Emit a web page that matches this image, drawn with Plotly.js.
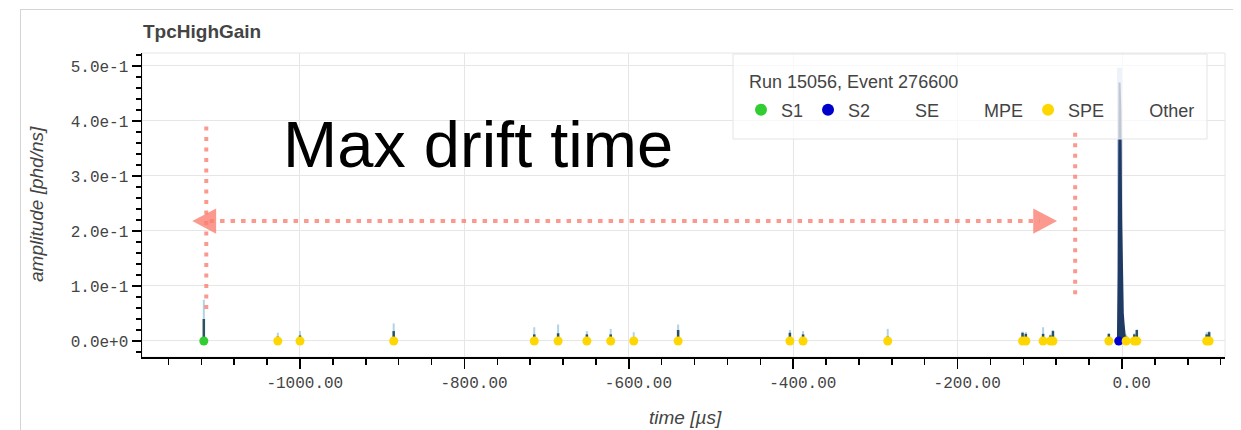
<!DOCTYPE html>
<html>
<head>
<meta charset="utf-8">
<script src="https://cdn.plot.ly/plotly-3.0.1.min.js"></script>
<style>
  html, body { margin: 0; padding: 0; background: #fff; }
  #frame { position: absolute; left: 20px; top: 9px; width: 1212px; height: 440px;
           border-top: 1px solid #d4d4d4; border-left: 1px solid #d4d4d4; }
  #chart { position: absolute; left: 0; top: 0; width: 1241px; height: 430px; }
</style>
</head>
<body>
<div id="frame"></div>
<div id="chart"></div>
<script>
// ---- data ----
const s1Times = [-1117];
const s2Times = [-4];
const speTimes = [-1027, -1000, -886, -715, -686, -651, -622, -594, -540, -404, -388, -285,
                  -121, -117, -96, -87, -84, -16, 5, 15, 18, 103, 106];

// small pulses in the waveform: time, core amplitude, envelope amplitude
const pulseTimes = [-1117, -1027, -1000, -886, -715, -686, -651, -622, -594, -540, -404, -388, -285,
                    -121, -117, -96, -87, -84, -16, 5, 15, 18, 103, 106];
const pulseCore  = [0.040, 0.008, 0.010, 0.018, 0.012, 0.014, 0.012, 0.012, 0.006, 0.020, 0.015, 0.012, 0.008,
                    0.015, 0.013, 0.013, 0.010, 0.018, 0.013, 0.008, 0.012, 0.020, 0.012, 0.016];
const pulseEnv   = [0.075, 0.015, 0.018, 0.032, 0.025, 0.030, 0.018, 0.022, 0.016, 0.030, 0.020, 0.018, 0.022,
                    0.017, 0.016, 0.025, 0.012, 0.020, 0.014, 0.012, 0.014, 0.021, 0.016, 0.018];

// main S2 pulse
const s2WaveTime = [-5, -4, -3, -2, -1, 0, 1, 2, 3, 4];
const s2WaveAmp  = [0, 0.12, 0.47, 0.42, 0.22, 0.08, 0.05, 0.03, 0.015, 0];
const s2EnvTime  = [-3];
const s2EnvAmp   = [0.497];

const xTickVals = [-1000, -800, -600, -400, -200, 0];
const xTickText = ['-1000.00', '-800.00', '-600.00', '-400.00', '-200.00', '0.00'];
const yTickVals = [0, 0.1, 0.2, 0.3, 0.4, 0.5];
const yTickText = ['0.0e+0', '1.0e-1', '2.0e-1', '3.0e-1', '4.0e-1', '5.0e-1'];

const legendTitle = 'Run 15056, Event 276600';

// ---- build vertical segments from the arrays ----
function segments(times, amps) {
  const x = [], y = [];
  times.forEach((t, i) => { x.push(t, t, null); y.push(0, amps[i], null); });
  return {x, y};
}
const env = segments(pulseTimes, pulseEnv);
const core = segments(pulseTimes, pulseCore);
const s2env = segments(s2EnvTime, s2EnvAmp);

// the reference draws x labels slightly right of their ticks; pad with leading spaces
const NB = '\u00a0';
const xTickShown = xTickText.map((s) => (s.length >= 8 ? NB : NB + NB) + s);

const salmon = 'rgba(250,128,114,0.8)';
const mk = (t) => t.map(() => 0);
const SANS = 'Liberation Sans, Arial, Helvetica, sans-serif';

const traces = [
  {x: env.x, y: env.y, mode: 'lines', line: {color: 'rgba(150,198,222,0.75)', width: 2}, showlegend: false, hoverinfo: 'skip'},
  {x: s2env.x, y: s2env.y, mode: 'lines', line: {color: 'rgba(170,186,232,0.7)', width: 5}, showlegend: false, hoverinfo: 'skip'},
  {x: core.x, y: core.y, mode: 'lines', line: {color: '#2c5262', width: 2.5}, showlegend: false, hoverinfo: 'skip'},
  {x: s2WaveTime, y: s2WaveAmp, mode: 'lines', fill: 'tozeroy', fillcolor: '#1f3b63', line: {color: '#1f3b63', width: 2}, showlegend: false, hoverinfo: 'skip'},
  {x: s1Times, y: mk(s1Times), name: 'S1', mode: 'markers', marker: {color: '#32cd32', size: 9}},
  {x: s2Times, y: mk(s2Times), name: 'S2', mode: 'markers', marker: {color: '#0000cd', size: 9}},
  {x: [null], y: [null], name: 'SE', mode: 'markers', marker: {color: 'rgba(0,0,0,0)', size: 9}},
  {x: [null], y: [null], name: 'MPE', mode: 'markers', marker: {color: 'rgba(0,0,0,0)', size: 9}},
  {x: speTimes, y: mk(speTimes), name: 'SPE', mode: 'markers', marker: {color: '#ffd700', size: 9}},
  {x: [null], y: [null], name: 'Other', mode: 'markers', marker: {color: 'rgba(0,0,0,0)', size: 9}}
];

const tickFont = {family: 'Liberation Mono, Courier New, monospace', size: 16, color: '#444'};

const layout = {
  width: 1241, height: 430,
  margin: {l: 142, r: 16, t: 53, b: 73, autoexpand: false},
  paper_bgcolor: 'rgba(0,0,0,0)',
  plot_bgcolor: '#fff',
  font: {family: SANS, color: '#444'},
  title: {text: '<b>TpcHighGain</b>', x: 143 / 1241, xanchor: 'left', xref: 'container',
          y: 1 - 31 / 430, yanchor: 'middle', yref: 'container',
          font: {family: SANS, size: 19, color: '#444'}},
  xaxis: {
    range: [-1192.2, 125.3], tickmode: 'array', tickvals: xTickVals, ticktext: xTickShown,
    tickfont: tickFont, ticks: 'outside', ticklen: 10, tickwidth: 1.5, tickcolor: '#000',
    showline: true, linecolor: '#000', linewidth: 1.5,
    showgrid: true, gridcolor: '#e6e6e6', gridwidth: 1, zeroline: false,
    minor: {tickmode: 'linear', tick0: 0, dtick: 40, ticks: 'outside', ticklen: 6, tickwidth: 1.5, tickcolor: '#000', showgrid: false}
  },
  yaxis: {
    range: [-0.0291, 0.5236], tickmode: 'array', tickvals: yTickVals, ticktext: yTickText,
    tickfont: tickFont, ticks: 'outside', ticklen: 9, tickwidth: 1.5, tickcolor: '#000',
    showline: true, linecolor: '#000', linewidth: 1.5,
    showgrid: true, gridcolor: '#e6e6e6', gridwidth: 1, zeroline: false,
    minor: {tickmode: 'linear', tick0: 0, dtick: 0.02, ticks: 'outside', ticklen: 5, tickwidth: 1.5, tickcolor: '#000', showgrid: false}
  },
  showlegend: true,
  legend: {
    orientation: 'h', x: (741 - 142) / 1083, xanchor: 'left', y: (357 - 110) / 304, yanchor: 'middle',
    bgcolor: 'rgba(0,0,0,0)', borderwidth: 0, itemsizing: 'constant',
    font: {family: SANS, size: 18, color: '#444'},
    itemclick: false, itemdoubleclick: false
  },
  shapes: [
    // plot outline
    {type: 'rect', xref: 'paper', yref: 'paper', x0: 0, x1: 1, y0: 0, y1: 1, line: {color: '#e6e6e6', width: 1}, layer: 'below'},
    // legend box
    {type: 'rect', xref: 'paper', yref: 'paper', x0: (733 - 142) / 1083, x1: (1207 - 142) / 1083,
     y0: (357 - 139) / 304, y1: (357 - 54) / 304, fillcolor: 'rgba(255,255,255,0.72)', line: {color: '#e4e4e4', width: 1}, layer: 'above'},
    // dotted guides
    {type: 'line', x0: -1114, x1: -1114, y0: 0.058, y1: 0.391, line: {color: salmon, width: 4, dash: '4px,6.5px'}},
    {type: 'line', x0: -57, x1: -57, y0: 0.085, y1: 0.387, line: {color: salmon, width: 4, dash: '4px,6.5px'}},
    {type: 'line', x0: -1110, x1: -100, y0: 0.218, y1: 0.218, line: {color: salmon, width: 4, dash: '4.5px,6px'}},
    // arrow heads
    {type: 'path', path: 'M -1131 0.218 L -1102 0.241 L -1102 0.195 Z', fillcolor: salmon, line: {width: 0}},
    {type: 'path', path: 'M -79 0.218 L -108 0.241 L -108 0.195 Z', fillcolor: salmon, line: {width: 0}}
  ],
  annotations: [
    {text: legendTitle, xref: 'paper', yref: 'paper', x: (747 - 142) / 1083, y: (357 - 82) / 304,
     xanchor: 'left', yanchor: 'middle', showarrow: false,
     font: {family: SANS, size: 18, color: '#444'}},
    {text: 'Max drift time', xref: 'paper', yref: 'paper', x: (477.5 - 142) / 1083, y: 0.70,
     xanchor: 'center', yanchor: 'middle', showarrow: false,
     font: {family: SANS, size: 65, color: '#000'}},
    {text: '<i>amplitude [phd/ns]</i>', xref: 'paper', yref: 'paper', x: (36 - 142) / 1083, y: (357 - 204) / 304,
     textangle: -90, xanchor: 'center', yanchor: 'middle', showarrow: false,
     font: {family: SANS, size: 19, color: '#444'}},
    {text: '<i>time [µs]</i>', xref: 'paper', yref: 'paper', x: (685 - 142) / 1083, y: (357 - 417) / 304,
     xanchor: 'center', yanchor: 'middle', showarrow: false,
     font: {family: SANS, size: 19, color: '#444'}}
  ]
};

Plotly.newPlot('chart', traces, layout, {displayModeBar: false, staticPlot: true});
</script>
</body>
</html>
